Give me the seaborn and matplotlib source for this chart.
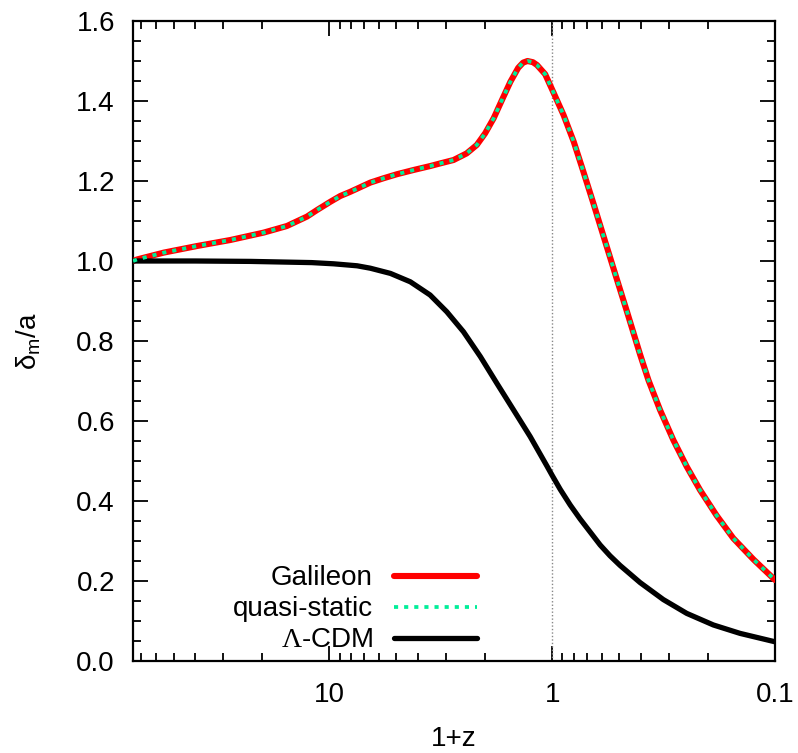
import numpy as np
import pandas as pd
import seaborn as sns
import matplotlib
matplotlib.use("Agg")
import matplotlib.pyplot as plt
from matplotlib.ticker import FixedLocator, LogLocator, MultipleLocator, NullFormatter, FormatStrFormatter

# values (x = 1+z, decreasing to the right)
gal_x = [76.0, 72.8, 55.3, 39.2, 27.8, 19.7, 15.5, 12.6, 11.35, 9.9, 8.93, 8.05, 6.55,
         5.7, 4.97, 4.19, 3.52, 3.18, 2.77, 2.42, 2.18, 2.0, 1.83, 1.68, 1.54, 1.42,
         1.35, 1.29, 1.22, 1.17, 1.075, 0.986, 0.889, 0.80, 0.724, 0.653, 0.589,
         0.513, 0.462, 0.403, 0.37, 0.328, 0.286, 0.249, 0.217, 0.183, 0.154,
         0.125, 0.1]
gal_y = [1.000, 1.004, 1.021, 1.0375, 1.0525, 1.071, 1.0875, 1.111, 1.1275, 1.148, 1.1625,
         1.173, 1.196, 1.207, 1.217, 1.2275, 1.2375, 1.244, 1.2525, 1.269, 1.29, 1.319,
         1.357, 1.4025, 1.448, 1.483, 1.496, 1.50, 1.497, 1.49, 1.467, 1.421, 1.365, 1.298,
         1.223, 1.144, 1.063, 0.955, 0.874, 0.766, 0.7025, 0.6275, 0.5525,
         0.486, 0.4275, 0.364, 0.307, 0.254, 0.2025]

# quasi-static solution lies on top of the full Galileon one
qs_x = list(gal_x)
qs_y = list(gal_y)

lcdm_x = [76.0, 40.0, 22.6, 12.0, 9.57, 7.5, 6.55, 5.32, 4.33, 3.53, 2.97, 2.50, 2.10,
          1.77, 1.49, 1.255, 1.057, 1.0, 0.92, 0.83, 0.749, 0.609, 0.55, 0.496, 0.403,
          0.317, 0.249, 0.189, 0.1435, 0.1]
lcdm_y = [1.000, 1.000, 0.999, 0.996, 0.993, 0.988, 0.982, 0.969, 0.948, 0.915, 0.873,
          0.823, 0.761, 0.694, 0.6275, 0.561, 0.488, 0.464, 0.429, 0.39, 0.355, 0.29,
          0.263, 0.239, 0.196, 0.1535, 0.119, 0.09, 0.069, 0.048]

xticks = [10, 1, 0.1]
xticklabels = ["10", "1", "0.1"]

sns.set_style("ticks")
plt.rcParams["font.family"] = ["Liberation Sans", "DejaVu Sans"]
plt.rcParams["mathtext.fontset"] = "custom"
plt.rcParams["mathtext.rm"] = "Liberation Sans"
plt.rcParams["mathtext.sf"] = "Liberation Serif"
plt.rcParams["text.color"] = "black"
plt.rcParams["axes.labelcolor"] = "black"
plt.rcParams["xtick.color"] = "black"
plt.rcParams["ytick.color"] = "black"
plt.rcParams["axes.edgecolor"] = "black"

fig = plt.figure(figsize=(7.98, 7.53), dpi=100)
ax = fig.add_axes([0.1667, 0.1222, 0.8045, 0.8499])

ax.axvline(1, color="#888888", lw=1.0, ls=(0, (1, 1.5)), zorder=1)

sns.lineplot(x=gal_x, y=gal_y, ax=ax, sort=False, estimator=None, color="#ff0000",
             lw=4.4, label="Galileon", zorder=3)
sns.lineplot(x=qs_x, y=qs_y, ax=ax, sort=False, estimator=None, color="#00ee99",
             lw=2.7, label="quasi-static", zorder=4)
sns.lineplot(x=lcdm_x, y=lcdm_y, ax=ax, sort=False, estimator=None, color="black",
             lw=3.8, label=r"$\mathsf{\Lambda}$-CDM", zorder=3)
ax.lines[2].set_linestyle((0, (1.1, 1.6)))
ax.lines[2].set_dash_capstyle("butt")
ax.lines[1].set_solid_joinstyle("round")
ax.lines[3].set_solid_joinstyle("round")

ax.set_xscale("log")
ax.set_xlim(76, 0.1)
ax.set_ylim(0, 1.6)

ax.xaxis.set_major_locator(FixedLocator(xticks))
ax.set_xticks(xticks)
ax.set_xticklabels(xticklabels)
ax.xaxis.set_minor_locator(LogLocator(base=10, subs=np.arange(2, 10), numticks=20))
ax.xaxis.set_minor_formatter(NullFormatter())
ax.yaxis.set_major_locator(MultipleLocator(0.2))
ax.yaxis.set_minor_locator(MultipleLocator(0.05))
ax.yaxis.set_major_formatter(FormatStrFormatter("%.1f"))

ax.tick_params(which="both", direction="in", top=True, right=True, width=1.3)
ax.tick_params(which="major", length=11)
ax.tick_params(which="minor", length=5.5)
ax.tick_params(axis="x", which="major", labelsize=20, pad=15)
ax.tick_params(axis="y", which="major", labelsize=20, pad=13)
for s in ax.spines.values():
    s.set_linewidth(1.6)

ax.set_xlabel("1+z", fontsize=20, labelpad=13)
ax.set_ylabel(r"δ$_\mathrm{m}$/a", fontsize=20, labelpad=24)

leg = ax.legend(loc="lower right", bbox_to_anchor=(0.536, 0.012), frameon=False,
                markerfirst=False, fontsize=20, handlelength=3.0, handletextpad=0.75,
                labelspacing=0.18, borderpad=0, borderaxespad=0)

fig.savefig("out.png", dpi=100)
